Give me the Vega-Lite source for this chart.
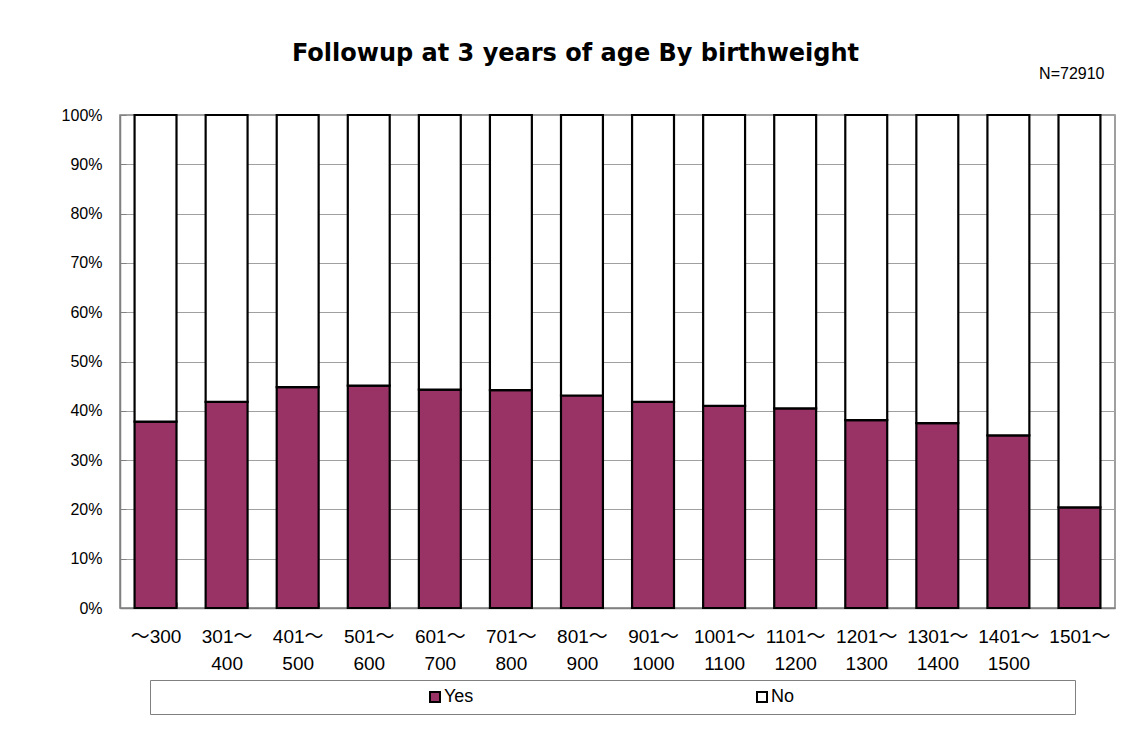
{
  "$schema": "https://vega.github.io/schema/vega-lite/v6.json",
  "width": 995,
  "height": 493,
  "autosize": {"type": "none"},
  "padding": {"left": 120, "top": 115, "right": 16, "bottom": 123},
  "background": "white",
  "title": {
    "text": "Followup at 3 years of age By birthweight",
    "font": "DejaVu Sans",
    "fontSize": 24,
    "fontWeight": "bold",
    "color": "black",
    "anchor": "middle",
    "dx": -42,
    "offset": -1
  },
  "data": {
    "values": [
      {"cat": "～300", "resp": "Yes", "pct": 37.8},
      {"cat": "～300", "resp": "No", "pct": 62.2},
      {"cat": "301～\n400", "resp": "Yes", "pct": 41.8},
      {"cat": "301～\n400", "resp": "No", "pct": 58.2},
      {"cat": "401～\n500", "resp": "Yes", "pct": 44.8},
      {"cat": "401～\n500", "resp": "No", "pct": 55.2},
      {"cat": "501～\n600", "resp": "Yes", "pct": 45.1},
      {"cat": "501～\n600", "resp": "No", "pct": 54.9},
      {"cat": "601～\n700", "resp": "Yes", "pct": 44.3},
      {"cat": "601～\n700", "resp": "No", "pct": 55.7},
      {"cat": "701～\n800", "resp": "Yes", "pct": 44.2},
      {"cat": "701～\n800", "resp": "No", "pct": 55.8},
      {"cat": "801～\n900", "resp": "Yes", "pct": 43.1},
      {"cat": "801～\n900", "resp": "No", "pct": 56.9},
      {"cat": "901～\n1000", "resp": "Yes", "pct": 41.8},
      {"cat": "901～\n1000", "resp": "No", "pct": 58.2},
      {"cat": "1001～\n1100", "resp": "Yes", "pct": 41.0},
      {"cat": "1001～\n1100", "resp": "No", "pct": 59.0},
      {"cat": "1101～\n1200", "resp": "Yes", "pct": 40.5},
      {"cat": "1101～\n1200", "resp": "No", "pct": 59.5},
      {"cat": "1201～\n1300", "resp": "Yes", "pct": 38.1},
      {"cat": "1201～\n1300", "resp": "No", "pct": 61.9},
      {"cat": "1301～\n1400", "resp": "Yes", "pct": 37.5},
      {"cat": "1301～\n1400", "resp": "No", "pct": 62.5},
      {"cat": "1401～\n1500", "resp": "Yes", "pct": 35.0},
      {"cat": "1401～\n1500", "resp": "No", "pct": 65.0},
      {"cat": "1501～", "resp": "Yes", "pct": 20.4},
      {"cat": "1501～", "resp": "No", "pct": 79.6}
    ]
  },
  "mark": {"type": "bar", "stroke": "black", "strokeWidth": 2.2},
  "encoding": {
    "x": {
      "field": "cat",
      "type": "nominal",
      "sort": null,
      "scale": {"paddingInner": 0.41, "paddingOuter": 0.205},
      "axis": {
        "title": null,
        "labelAngle": 0,
        "labelExpr": "split(datum.label, '\\n')",
        "labelFontSize": 19,
        "labelLineHeight": 27,
        "labelColor": "black",
        "labelPadding": 25,
        "tickBand": "extent",
        "tickSize": -6,
        "tickColor": "#808080",
        "domainColor": "#808080",
        "domainWidth": 1.5,
        "grid": false
      }
    },
    "y": {
      "field": "pct",
      "type": "quantitative",
      "stack": "zero",
      "scale": {"domain": [0, 100], "nice": false},
      "axis": {
        "values": [0, 10, 20, 30, 40, 50, 60, 70, 80, 90, 100],
        "labelExpr": "datum.value + '%'",
        "labelFontSize": 16,
        "labelColor": "black",
        "labelPadding": 24,
        "tickSize": -6,
        "tickColor": "#808080",
        "domainColor": "#808080",
        "domainWidth": 1.5,
        "grid": true,
        "gridColor": "#a0a0a0",
        "gridWidth": 1,
        "title": "N=72910",
        "titleAngle": 0,
        "titleAlign": "right",
        "titleBaseline": "middle",
        "titleX": 984,
        "titleY": -42,
        "titleFontSize": 16,
        "titleFontWeight": "normal",
        "titleColor": "black"
      }
    },
    "color": {
      "field": "resp",
      "type": "nominal",
      "scale": {"domain": ["Yes", "No"], "range": ["#993366", "#ffffff"]},
      "legend": {
        "orient": "none",
        "legendX": 30,
        "legendY": 565,
        "direction": "horizontal",
        "title": "\u200b\u3000\u3000\u3000\u3000\u3000\u3000\u3000\u3000\u3000\u3000\u3000\u3000\u3000\u3000   \u200b",
        "titleOrient": "left",
        "titlePadding": 0,
        "titleLimit": 2000,
        "titleFontSize": 18,
        "titleFontWeight": "normal",
        "labelExpr": "datum.label + '\u3000\u3000\u3000\u3000\u3000\u3000\u3000\u3000\u3000\u3000\u3000\u3000\u3000\u3000    \u200b'",
        "labelLimit": 2000,
        "labelFontSize": 18,
        "labelColor": "black",
        "labelOffset": 0,
        "columnPadding": 7,
        "symbolType": "square",
        "symbolSize": 100,
        "symbolStrokeColor": "black",
        "symbolStrokeWidth": 2,
        "strokeColor": "#808080",
        "fillColor": "white",
        "padding": 8
      }
    },
    "order": {"field": "resp", "sort": "descending"}
  },
  "config": {
    "font": "Liberation Sans, Noto Sans CJK JP",
    "view": {"stroke": "#808080", "strokeWidth": 1.5}
  }
}
